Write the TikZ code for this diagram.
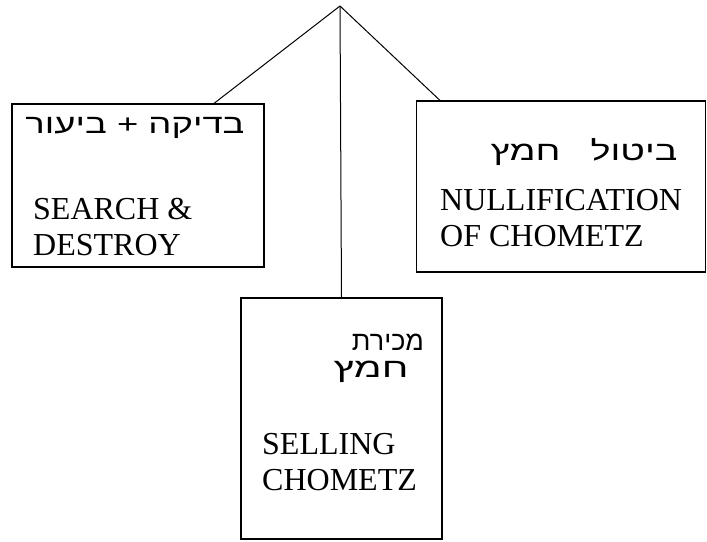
\documentclass[tikz,border=0pt]{standalone}
\usepackage{fontspec}
\setmainfont{Liberation Serif}
\newfontfamily\hebfont[Script=Hebrew]{Liberation Sans}
\TeXXeTstate=1
\usetikzlibrary{calc}
\begin{document}
\begin{tikzpicture}[x=1pt,y=-1pt,
  box/.style={draw,line width=1.1pt,inner sep=0pt},
  lbl/.style={anchor=base west,inner sep=0pt,font=\fontsize{32}{36}\selectfont},
  heb/.style={inner sep=0pt,font=\hebfont\fontsize{27}{30}\selectfont},
  conn/.style={line width=1pt}]
\useasboundingbox (0,0) rectangle (707,541);
\coordinate (apex) at (340,6);
\node[box,minimum width=252pt,minimum height=163pt] (lbox) at (138,185.5) {};
\node[box,minimum width=289pt,minimum height=171pt] (rbox) at (561,186.5) {};
\node[box,minimum width=201pt,minimum height=241pt] (mbox) at (341.5,418.5) {};
\draw[conn] (apex) -- ($(lbox.north west)!0.8!(lbox.north east)$);
\draw[conn] (apex) -- ($(rbox.north west)!0.083!(rbox.north east)$);
\draw[conn] (apex) -- (mbox.north);
% left box
\node[heb] (lheb) at (135,128) {\scalebox{1.35}[1]{\beginR בדיקה + ביעור\endR}};
\node[lbl] (l1) at (33,219) {SEARCH \&};
\node[lbl] (l2) at (33,255) {DESTROY};
% right box
\node[heb] (rheb) at (584,152) {\scalebox{1.4}[1]{\beginR ביטול\hspace{14pt} חמץ\endR}};
\node[lbl] (r1) at (440,210) {NULLIFICATION};
\node[lbl] (r2) at (440,246) {OF CHOMETZ};
% middle box
\node[heb] (mheb1) at (388,342) {\beginR מכירת\endR};
\node[heb] (mheb2) at (371,372) {\scalebox{1.5}[1]{\beginR חמץ\endR}};
\node[lbl] (m1) at (262,454) {SELLING};
\node[lbl] (m2) at (262,490) {CHOMETZ};
\end{tikzpicture}
\end{document}
